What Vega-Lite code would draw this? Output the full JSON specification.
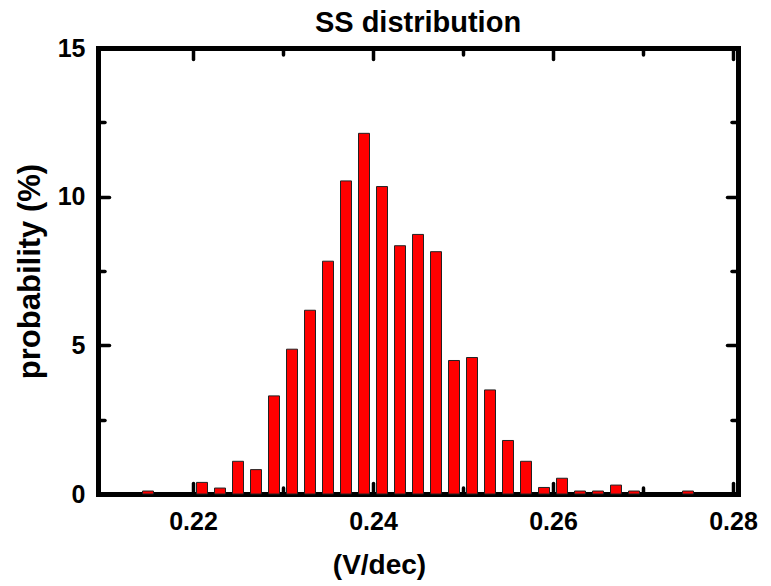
{
  "$schema": "https://vega.github.io/schema/vega-lite/v6.json",
  "width": 640,
  "height": 446,
  "autosize": {"type": "none"},
  "padding": {"left": 98, "top": 48, "right": 33, "bottom": 92},
  "background": "white",
  "title": {"text": "SS distribution", "font": "Liberation Sans", "fontSize": 29, "fontWeight": "bold", "color": "black", "anchor": "middle", "offset": -2},
  "config": {
    "view": {"stroke": null},
    "axis": {
      "labelFont": "Liberation Sans", "labelFontWeight": "bold", "labelFontSize": 25, "labelColor": "black",
      "titleFont": "Liberation Sans", "titleFontWeight": "bold", "titleFontSize": 28, "titleColor": "black",
      "domainColor": "black", "domainWidth": 5, "domainCap": "square",
      "tickColor": "black", "tickWidth": 3.5, "tickCap": "round",
      "grid": false, "zindex": 1
    }
  },
  "data": {"values": [
    {"ss": 0.215, "p": 0.1},
    {"ss": 0.221, "p": 0.39},
    {"ss": 0.223, "p": 0.2},
    {"ss": 0.225, "p": 1.1},
    {"ss": 0.227, "p": 0.82},
    {"ss": 0.229, "p": 3.3},
    {"ss": 0.231, "p": 4.87},
    {"ss": 0.233, "p": 6.18},
    {"ss": 0.235, "p": 7.83},
    {"ss": 0.237, "p": 10.53},
    {"ss": 0.239, "p": 12.13},
    {"ss": 0.241, "p": 10.34},
    {"ss": 0.243, "p": 8.35},
    {"ss": 0.245, "p": 8.73},
    {"ss": 0.247, "p": 8.15},
    {"ss": 0.249, "p": 4.49},
    {"ss": 0.251, "p": 4.59},
    {"ss": 0.253, "p": 3.5},
    {"ss": 0.255, "p": 1.8},
    {"ss": 0.257, "p": 1.1},
    {"ss": 0.259, "p": 0.22},
    {"ss": 0.261, "p": 0.53},
    {"ss": 0.263, "p": 0.1},
    {"ss": 0.265, "p": 0.1},
    {"ss": 0.267, "p": 0.3},
    {"ss": 0.269, "p": 0.1},
    {"ss": 0.275, "p": 0.1}
  ]},
  "resolve": {"axis": {"x": "independent", "y": "independent"}},
  "layer": [
    {
      "mark": {"type": "bar", "width": 11, "fill": "#ff0000", "stroke": "#222222", "strokeWidth": 1},
      "encoding": {
        "x": {"field": "ss", "type": "quantitative", "scale": {"domain": [0.21, 0.28], "nice": false, "zero": false},
          "axis": {"orient": "bottom", "values": [0.22, 0.24, 0.26, 0.28], "format": ".2f", "title": "(V/dec)", "ticks": false, "labelPadding": 15, "titlePadding": 17, "titleX": 281}},
        "y": {"field": "p", "type": "quantitative", "scale": {"domain": [0, 15], "nice": false},
          "axis": {"orient": "left", "values": [0, 5, 10, 15], "title": "probability (%)", "titleFontSize": 31, "ticks": false, "labelPadding": 13, "titlePadding": 11}}
      }
    },
    {
      "mark": {"type": "bar", "width": 11, "opacity": 0},
      "encoding": {
        "x": {"field": "ss", "type": "quantitative", "axis": {"orient": "bottom", "values": [0.22, 0.24, 0.26, 0.28], "labels": false, "title": null, "domain": false, "tickSize": 11, "offset": -11}},
        "y": {"field": "p", "type": "quantitative", "axis": {"orient": "left", "values": [0, 5, 10, 15], "labels": false, "title": null, "domain": false, "tickSize": 11, "offset": -11}}
      }
    },
    {
      "mark": {"type": "bar", "width": 11, "opacity": 0},
      "encoding": {
        "x": {"field": "ss", "type": "quantitative", "axis": {"orient": "bottom", "values": [0.23, 0.25, 0.27], "labels": false, "title": null, "domain": false, "tickSize": 6.5, "offset": -6.5}},
        "y": {"field": "p", "type": "quantitative", "axis": {"orient": "left", "values": [2.5, 7.5, 12.5], "labels": false, "title": null, "domain": false, "tickSize": 6.5, "offset": -6.5}}
      }
    },
    {
      "mark": {"type": "bar", "width": 11, "opacity": 0},
      "encoding": {
        "x": {"field": "ss", "type": "quantitative", "axis": {"orient": "top", "labels": false, "title": null, "ticks": false}},
        "y": {"field": "p", "type": "quantitative", "axis": {"orient": "right", "labels": false, "title": null, "ticks": false}}
      }
    },
    {
      "mark": {"type": "bar", "width": 11, "opacity": 0},
      "encoding": {
        "x": {"field": "ss", "type": "quantitative", "axis": {"orient": "top", "values": [0.22, 0.24, 0.26, 0.28], "labels": false, "title": null, "domain": false, "tickSize": 11, "offset": -11}},
        "y": {"field": "p", "type": "quantitative", "axis": {"orient": "right", "values": [0, 5, 10, 15], "labels": false, "title": null, "domain": false, "tickSize": 11, "offset": -11}}
      }
    },
    {
      "mark": {"type": "bar", "width": 11, "opacity": 0},
      "encoding": {
        "x": {"field": "ss", "type": "quantitative", "axis": {"orient": "top", "values": [0.23, 0.25, 0.27], "labels": false, "title": null, "domain": false, "tickSize": 6.5, "offset": -6.5}},
        "y": {"field": "p", "type": "quantitative", "axis": {"orient": "right", "values": [2.5, 7.5, 12.5], "labels": false, "title": null, "domain": false, "tickSize": 6.5, "offset": -6.5}}
      }
    }
  ]
}
